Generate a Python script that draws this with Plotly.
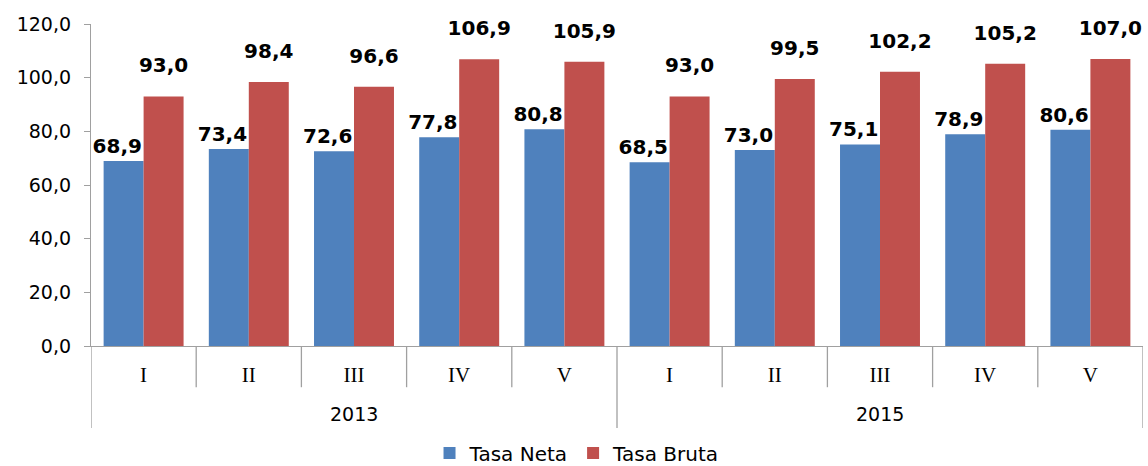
import plotly.graph_objects as go

years = ["2013", "2015"]
periods = ["I", "II", "III", "IV", "V"]
tasa_neta = [68.9, 73.4, 72.6, 77.8, 80.8, 68.5, 73.0, 75.1, 78.9, 80.6]
tasa_bruta = [93.0, 98.4, 96.6, 106.9, 105.9, 93.0, 99.5, 102.2, 105.2, 107.0]
y_ticks = [0, 20, 40, 60, 80, 100, 120]

font_main = "DejaVu Sans, Verdana, sans-serif"
font_serif = "Liberation Serif, Times New Roman, serif"
axis_grey = "#A0A0A0"

n_per = len(periods)
n = len(years) * n_per
xs = list(range(n))
tick_text = periods * len(years)

fig = go.Figure()
fig.add_trace(go.Bar(
    x=xs, y=tasa_neta, name="Tasa Neta",
    marker=dict(color="#4F81BD", line=dict(width=0)),
    texttemplate="<b>%{y:.1f}</b>\u00a0\u00a0", textposition="outside",
    textfont=dict(family=font_main, size=20, color="black"),
    constraintext="none", cliponaxis=False,
))
fig.add_trace(go.Bar(
    x=xs, y=tasa_bruta, name="Tasa Bruta",
    marker=dict(color="#C0504D", line=dict(width=0)),
    texttemplate="<span style='font-size:20px'><b>%{y:.1f}</b></span><br> ",
    textposition="outside",
    textfont=dict(family=font_main, size=14, color="black"),
    constraintext="none", cliponaxis=False,
))

# category boundary ticks (short) and group dividers (long)
shapes = []
for b in range(n + 1):
    pos = b - 0.5
    is_group = (b % n_per == 0)
    shapes.append(dict(
        type="line", xref="x", yref="paper",
        x0=pos, x1=pos, y0=0, y1=(-0.255 if is_group else -0.128),
        line=dict(color=axis_grey, width=1.3),
    ))

annotations = []
for gi, yr in enumerate(years):
    center = gi * n_per + (n_per - 1) / 2
    annotations.append(dict(
        x=center, xref="x", y=-0.211, yref="paper",
        text=yr, showarrow=False, xanchor="center", yanchor="middle",
        font=dict(family=font_main, size=19, color="black"),
    ))

fig.update_layout(
    width=1148, height=466,
    margin=dict(l=91, r=5, t=24, b=120, autoexpand=False),
    paper_bgcolor="white", plot_bgcolor="white",
    separators=",.",
    barmode="group", bargap=0.24, bargroupgap=0,
    font=dict(family=font_main, size=19, color="black"),
    showlegend=True,
    legend=dict(orientation="h", x=0.462, xanchor="center", y=-0.332, yanchor="middle",
                font=dict(size=20), itemwidth=30, traceorder="normal"),
    shapes=shapes, annotations=annotations,
)
fig.update_yaxes(
    range=[0, 120], tickvals=y_ticks, tickformat=".1f",
    showline=True, linecolor=axis_grey, linewidth=1.3,
    ticks="outside", tickcolor=axis_grey, ticklen=6, ticklabelstandoff=9,
    showgrid=False, zeroline=False,
    tickfont=dict(family=font_main, size=19, color="black"),
)
fig.update_xaxes(
    range=[-0.5, n - 0.5], tickvals=xs, ticktext=tick_text,
    showline=True, linecolor=axis_grey, linewidth=1.3,
    ticks="", ticklabelstandoff=10, showgrid=False, zeroline=False,
    tickfont=dict(family=font_serif, size=21, color="black"),
)

fig.write_html(
    "out.html",
    config={"displayModeBar": False},
    post_script="document.body.style.margin='0';document.body.style.overflow='hidden';",
)
